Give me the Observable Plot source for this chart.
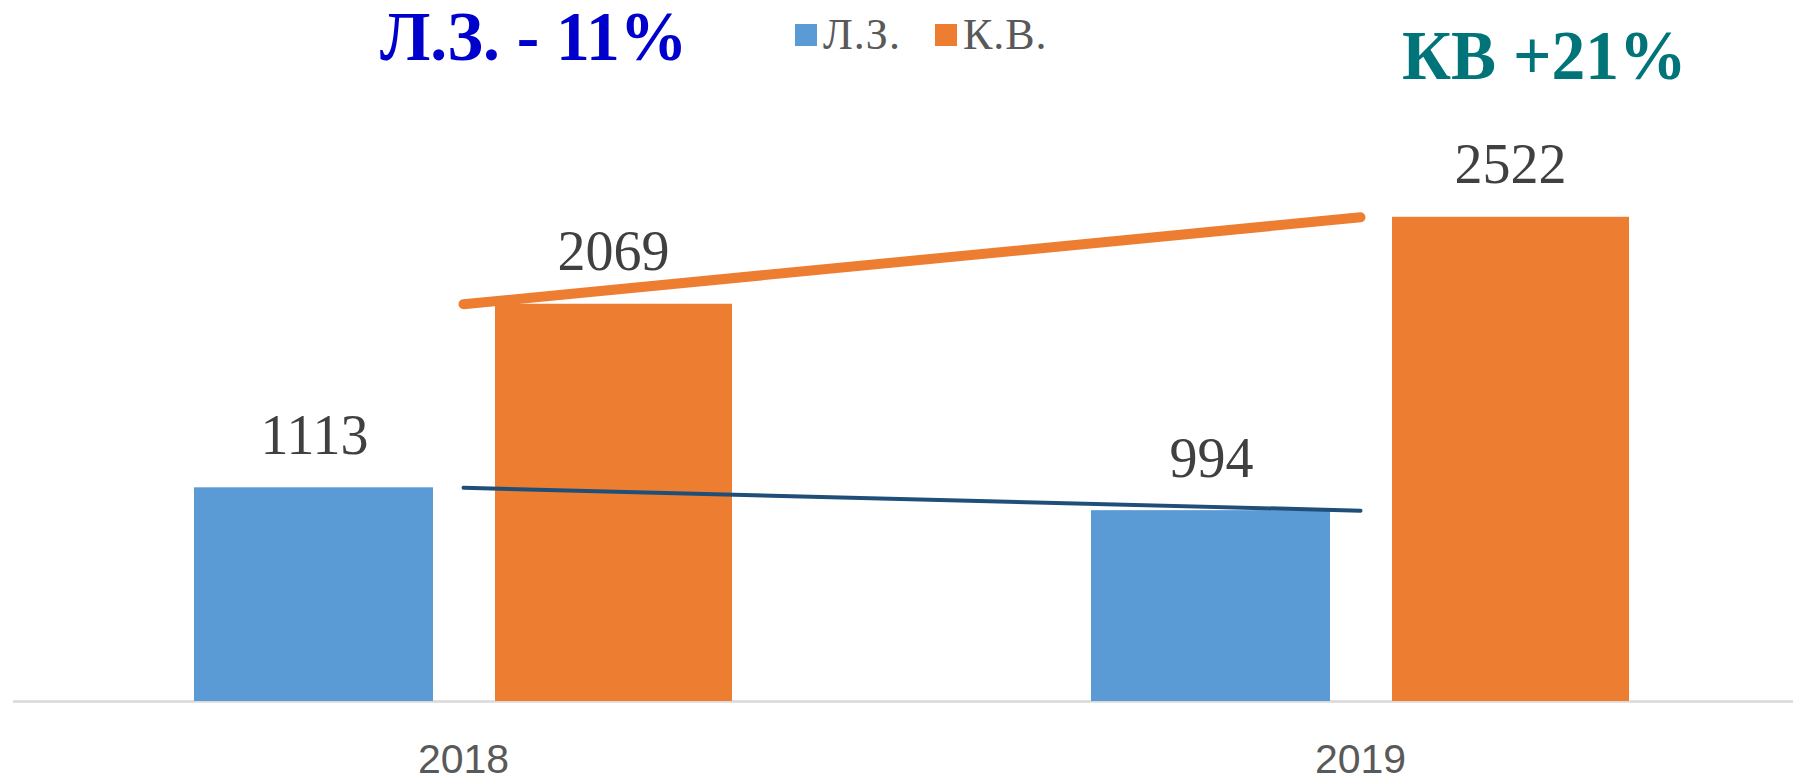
<!DOCTYPE html>
<html>
<head>
<meta charset="utf-8">
<script src="https://cdn.jsdelivr.net/npm/d3@7"></script>
<script src="https://cdn.jsdelivr.net/npm/@observablehq/plot@0.6"></script>
<style>
  body { margin: 0; background: #fff; }
  #wrap { position: relative; width: 1793px; height: 778px; overflow: hidden; }
  .title { position: absolute; font-family: "Liberation Serif", "DejaVu Serif", serif; font-weight: bold; font-size: 70px; line-height: 1; white-space: nowrap; transform: scaleX(0.965); transform-origin: left top; }
  #legend { position: absolute; left: 795px; top: 13px; display: flex; align-items: center; font-family: "Liberation Serif", serif; font-size: 44px; letter-spacing: 1px; color: #595959; line-height: 1; }
  #legend .sw { display: inline-block; width: 22px; height: 22px; margin-right: 6px; }
  #legend .item { display: flex; align-items: center; margin-right: 34px; }
</style>
</head>
<body>
<div id="wrap"></div>
<script>
const years = ["2018", "2019"];
const seriesNames = ["Л.З.", "К.В."];
const lzValues = [1113, 994];
const kvValues = [2069, 2522];
const seriesColors = ["#5B9BD5", "#ED7D31"];
const trendColors = ["#1F4E79", "#ED7D31"];
const titleLeft = "Л.З. - 11%";
const titleRight = "КВ +21%";

const lz = years.map((y, i) => ({year: y, series: seriesNames[0], value: lzValues[i]}));
const kv = years.map((y, i) => ({year: y, series: seriesNames[1], value: kvValues[i]}));

const plot = Plot.plot({
  width: 1793,
  height: 778,
  marginLeft: 59,
  marginRight: 28,
  marginTop: 125,
  marginBottom: 77,
  style: {fontFamily: "'Liberation Sans', Arial, sans-serif", fontSize: "41px", color: "#595959", background: "transparent"},
  x: {domain: years, paddingInner: 0.4, paddingOuter: 0.15, label: null, tickSize: 0, tickPadding: 42},
  y: {domain: [0, 3000], axis: null},
  color: {domain: seriesNames, range: seriesColors},
  marks: [
    Plot.ruleY([0], {stroke: "#D9D9D9", strokeWidth: 2.5, insetLeft: -46, insetRight: -28}),
    Plot.barY(lz, {x: "year", y: "value", fill: "series", insetRight: 299}),
    Plot.barY(kv, {x: "year", y: "value", fill: "series", insetLeft: 301}),
    Plot.text(lz, {x: "year", y: "value", text: d => String(d.value), dx: -149, dy: -34, lineAnchor: "bottom", fontFamily: "'Liberation Serif', serif", fontSize: 56, fill: "#404040"}),
    Plot.text(kv, {x: "year", y: "value", text: d => String(d.value), dx: 150, dy: -34, lineAnchor: "bottom", fontFamily: "'Liberation Serif', serif", fontSize: 56, fill: "#404040"}),
    Plot.line(lz, {x: "year", y: "value", stroke: trendColors[0], strokeWidth: 4}),
    Plot.line(kv, {x: "year", y: "value", stroke: trendColors[1], strokeWidth: 10, strokeLinecap: "round"})
  ]
});

const wrap = document.getElementById("wrap");
wrap.appendChild(plot);

const t1 = document.createElement("div");
t1.className = "title";
t1.textContent = titleLeft;
t1.style.left = "380px";
t1.style.top = "2px";
t1.style.color = "#0000CC";
wrap.appendChild(t1);

const t2 = document.createElement("div");
t2.className = "title";
t2.textContent = titleRight;
t2.style.left = "1402px";
t2.style.top = "21px";
t2.style.color = "#007478";
wrap.appendChild(t2);

const legend = document.createElement("div");
legend.id = "legend";
seriesNames.forEach((name, i) => {
  const item = document.createElement("div");
  item.className = "item";
  const sw = document.createElement("span");
  sw.className = "sw";
  sw.style.background = seriesColors[i];
  const label = document.createElement("span");
  label.textContent = name;
  item.appendChild(sw);
  item.appendChild(label);
  legend.appendChild(item);
});
wrap.appendChild(legend);
</script>
</body>
</html>
